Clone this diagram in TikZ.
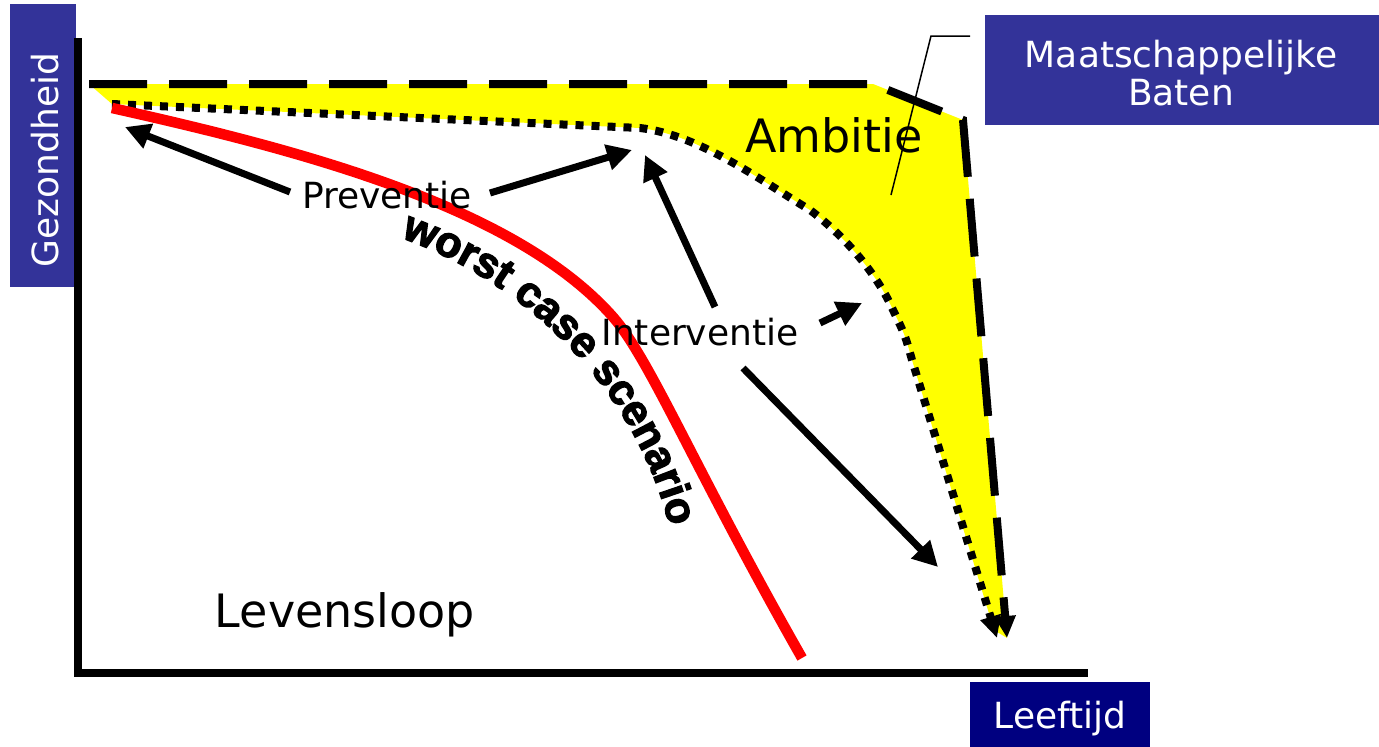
\documentclass[tikz,border=0pt]{standalone}
\usepackage{fontspec}
\setmainfont{DejaVu Sans}
\newfontfamily\wcfont[FakeBold=3]{Liberation Sans}
\usetikzlibrary{arrows.meta,decorations.text}
\definecolor{boxblue}{RGB}{51,51,153}
\definecolor{navyblue}{RGB}{0,0,128}
\definecolor{fillyellow}{RGB}{255,255,0}
\tikzset{
  lbl/.style={font=\fontsize{36}{36}\selectfont, inner sep=0pt, anchor=base},
  bigl/.style={font=\fontsize{46}{46}\selectfont, inner sep=0pt, anchor=base},
  wlbl/.style={lbl, text=white},
  axisline/.style={line width=8pt},
  arr/.style={line width=7pt, -{Triangle[length=25pt,width=25pt]}},
  dashline/.style={line width=8pt, dash pattern=on 58pt off 22pt, -{Triangle[length=22pt,width=20pt]}},
  dotline/.style={line width=8pt, dash pattern=on 8pt off 8pt, -{Triangle[length=22pt,width=20pt]}},
  redline/.style={line width=10.5pt, red},
  leader/.style={line width=1.5pt},
}
\begin{document}
\begin{tikzpicture}[x=1pt,y=-1pt]
\useasboundingbox (0,0) rectangle (1379,747);

% boxes
\node (gezbox) [fill=boxblue, inner sep=0pt, minimum width=66pt, minimum height=283pt] at (43,145.5) {};
\node (maatbox) [fill=boxblue, inner sep=0pt, minimum width=394pt, minimum height=110pt] at (1182,70) {};
\node (leefbox) [fill=navyblue, inner sep=0pt, minimum width=180pt, minimum height=65pt] at (1060,714.5) {};

% yellow area
\fill[fillyellow] (89,84) -- (873,84) -- (963,120) -- (1007,638) -- (994,630)
  -- (912,360) .. controls (905,335) .. (893,310)
  .. controls (880,280) and (850,240) .. (810,210)
  .. controls (760,180) and (700,135) .. (640,128) -- (112,104) -- cycle;

% axes
\coordinate (ytop) at (78,38);
\coordinate (origin) at (78,672.5);
\coordinate (xend) at (1088,672.5);
\draw[axisline] (ytop) -- (78,676);
\draw[axisline] (74,672.5) -- (xend);

% dashed (ambition) line
\coordinate (d0) at (89,84);
\coordinate (d1) at (873,84);
\coordinate (d2) at (963,120);
\coordinate (d3) at (1007,638);
\draw[dashline] (d0) -- (d1) -- (d2) -- (d3);

% dotted line
\coordinate (p0) at (112,104);
\coordinate (p1) at (640,128);
\coordinate (p2) at (810,210);
\coordinate (p3) at (893,310);
\coordinate (p4) at (997,638);
\draw[dotline] (p0) -- (p1) .. controls (700,135) and (760,180) .. (p2)
  .. controls (850,240) and (880,280) .. (p3)
  .. controls (905,335) .. (912,360) -- (p4);

% red worst case curve
\coordinate (r0) at (112,108);
\coordinate (r1) at (613,317);
\coordinate (r2) at (802,658);
\draw[redline] (r0) .. controls (300,150) and (515,206) .. (r1)
  .. controls (650,359) and (695,470) .. (r2);

% worst case scenario text
\path[decorate, decoration={text along path, text align=center,
  text={|\wcfont\bfseries\fontsize{43}{43}\selectfont|worst case scenario}}]
  (407,240) .. controls (520,282) and (630,380) .. (668,520);

% labels
\node (prev) [lbl] at (387,208) {Preventie};
\node (interv) [lbl] at (700,345) {Interventie};
\node (amb) [bigl] at (834,152) {Ambitie};
\node (lev) [bigl] at (345,627) {Levensloop};
\node (gez) [wlbl, rotate=90] at (58,160) {Gezondheid};
\node (maat) [wlbl] at (1181,67) {Maatschappelijke};
\node (baten) [wlbl] at (1181,105) {Baten};
\node (leef) [wlbl] at (1060,728) {Leeftijd};

% arrows
\coordinate (a1s) at (290,192);
\coordinate (a1e) at (125,127);
\coordinate (a2s) at (490,193);
\coordinate (a2e) at (632,150);
\coordinate (a3s) at (715,307);
\coordinate (a3e) at (645,155);
\coordinate (a4s) at (820,323);
\coordinate (a4e) at (862,303);
\coordinate (a5s) at (743,368);
\coordinate (a5e) at (938,567);
\draw[arr] (a1s) -- (a1e);
\draw[arr] (a2s) -- (a2e);
\draw[arr] (a3s) -- (a3e);
\draw[arr] (a4s) -- (a4e);
\draw[arr] (a5s) -- (a5e);

% leader line
\coordinate (l0) at (970,36);
\coordinate (l1) at (931,36);
\coordinate (l2) at (891,195);
\draw[leader] (l0) -- (l1) -- (l2);
\end{tikzpicture}
\end{document}
